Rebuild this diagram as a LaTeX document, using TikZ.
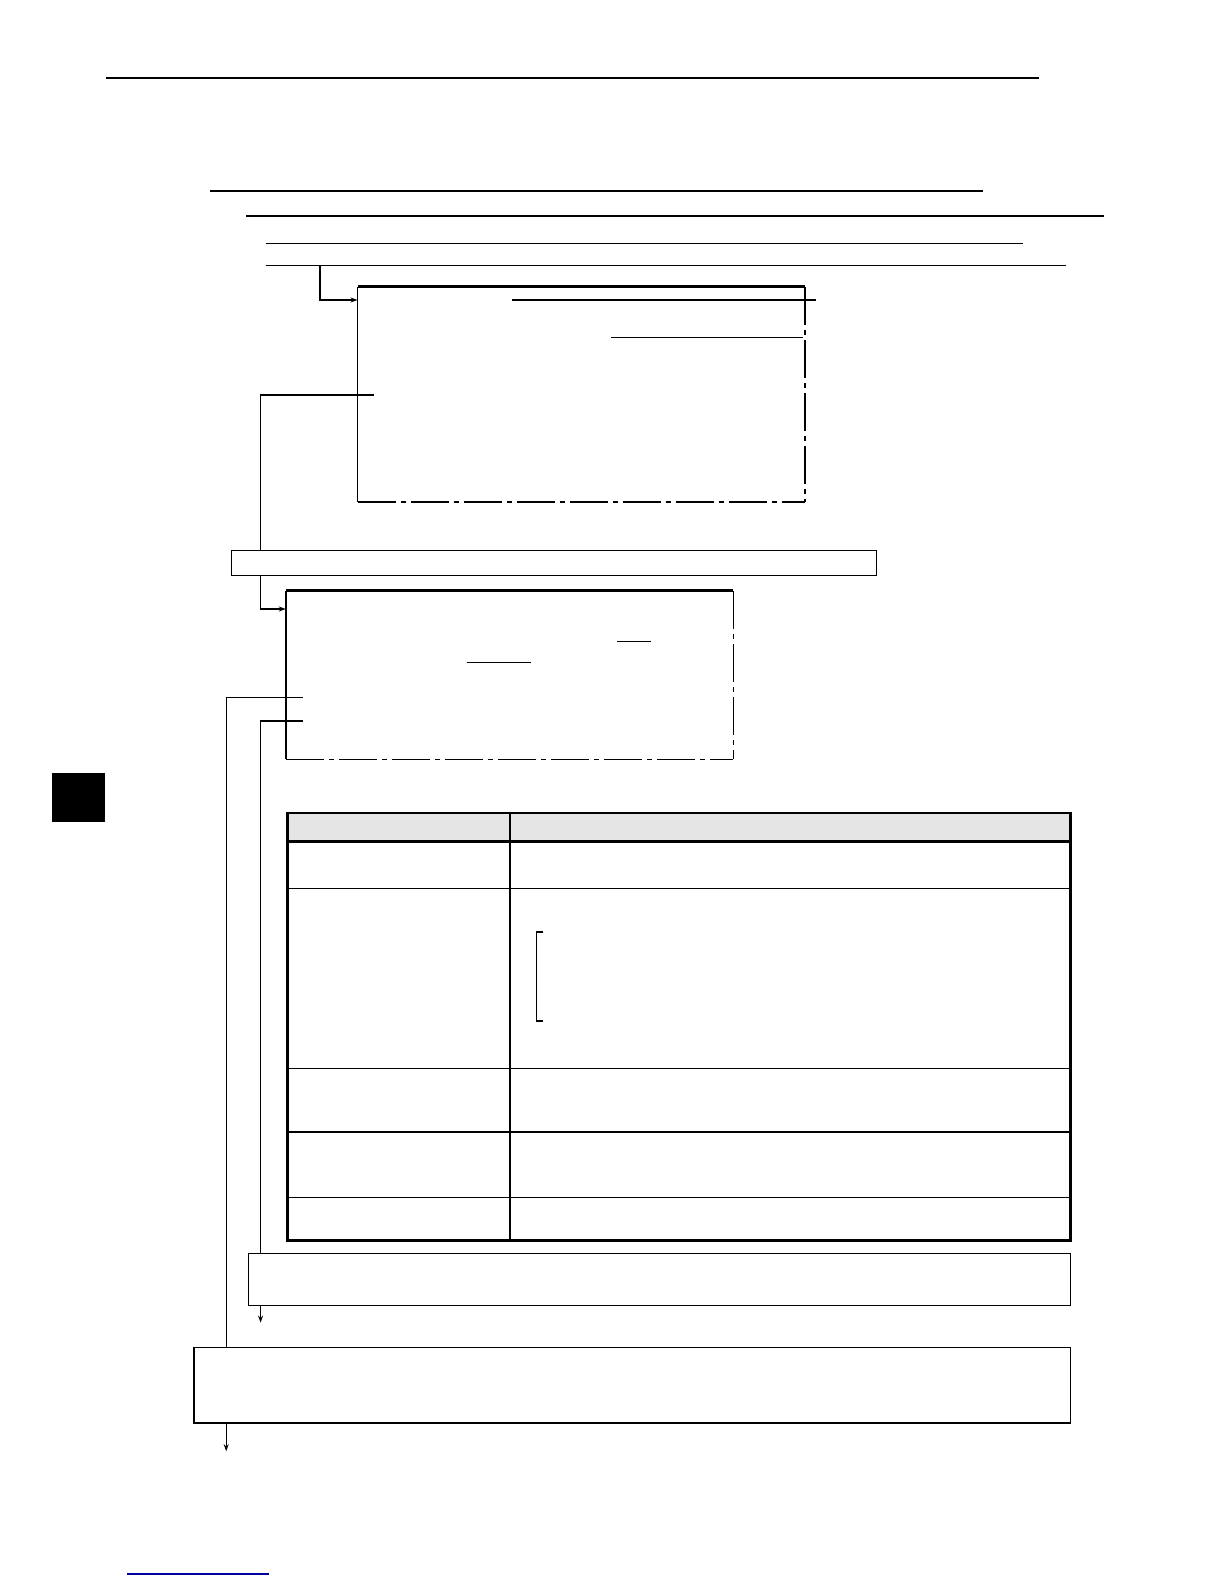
\documentclass[tikz,border=0pt]{standalone}
\usetikzlibrary{arrows.meta}
\begin{document}
\begin{tikzpicture}[x=1pt,y=-1pt,
  ln/.style={line width=1.3pt},
  thickln/.style={line width=2.8pt},
  dashdot/.style={line width=1.3pt,dash pattern=on 38pt off 5pt on 5pt off 5pt},
  arr/.style={ln,-{Stealth[length=7pt,width=5pt]}},
  boxn/.style={draw,line width=1.3pt,rectangle,inner sep=0pt,outer sep=0pt,anchor=north west,fill=white},
  blank/.style={rectangle,inner sep=0pt,outer sep=0pt,anchor=north west}]
\useasboundingbox (0,0) rectangle (1224,1584);
\fill[white] (0,0) rectangle (1224,1584);
% rules
\draw[line width=1.8pt] (106,77.8) -- (1039,77.8);
\draw[ln] (210,190.9) -- (983,190.9);
\draw[ln] (246,216) -- (1104,216);
\draw[ln] (265.6,243.4) -- (1023,243.4);
\draw[ln] (265.6,265.6) -- (1066,265.6);
\coordinate (r5) at (320,265.6);
% box 1
\node[blank,minimum width=447.5pt,minimum height=215.2pt] (b1) at (357.5,286.8) {};
\draw[thickln] (b1.north west) -- (b1.north east);
\draw[ln] (b1.north west) -- (b1.south west);
\draw[dashdot] (b1.north east) -- (b1.south east);
\draw[dashdot] (b1.south west) -- (b1.south east);
\draw[ln] (512,300) -- (816,300);
\draw[ln] (611,337.3) -- (803,337.3);
\draw[arr] (r5) |- (b1.north west |- 0,300);
% wide box
\node[boxn,minimum width=645.3pt,minimum height=25.2pt] (wide) at (231.3,550.4) {};
\coordinate (c1) at (373.7,394.9);
\coordinate (k1) at (260.6,394.9);
\draw[ln] (c1) -- (k1) -- (k1 |- wide.north);
% box 2
\node[blank,minimum width=447.4pt,minimum height=168.6pt] (b2) at (285.8,590.8) {};
\draw[thickln] (b2.north west) -- (b2.north east);
\draw[line width=2.4pt] (b2.north west) -- (b2.south west);
\draw[dashdot] (b2.north east) -- (b2.south east);
\draw[dashdot] (b2.south west) -- (b2.south east);
\draw[ln] (617,641.3) -- (651.4,641.3);
\draw[ln] (466.6,662.5) -- (531.2,662.5);
\coordinate (k2) at (260.6,575.6);
\draw[arr] (k2) |- (b2.west |- 0,609);
% table
\fill[gray!20] (287.8,813) rectangle (1070.5,841.3);
\draw[line width=2.8pt] (287.8,813) rectangle (1070.5,1240.2);
\draw[line width=2.8pt] (287.8,841.3) -- (1070.5,841.3);
\draw[ln] (510,813) -- (510,1240.2);
\foreach \yy in {888.7,1068.5,1132.1,1197.7} \draw[ln] (287.8,\yy) -- (1070.5,\yy);
\draw[ln] (543,932) -- (536.3,932) -- (536.3,1021) -- (543,1021);
% medium and big boxes
\node[boxn,minimum width=822.1pt,minimum height=52.5pt] (med) at (248.4,1253.3) {};
\node[boxn,minimum width=876.6pt,minimum height=75.8pt] (big) at (193.9,1347.2) {};
\coordinate (c2) at (303,697.8);
\coordinate (k3) at (226.2,697.8);
\draw[ln] (c2) -- (k3) -- (k3 |- big.north);
\coordinate (c3) at (303,721);
\coordinate (k4) at (260.6,721);
\draw[ln] (c3) -- (k4) -- (k4 |- med.north);
\coordinate (e1) at (260.6,1322.6);
\draw[arr] (e1 |- med.south) -- (e1);
\coordinate (e2) at (226.2,1451.2);
\draw[arr] (e2 |- big.south) -- (e2);
% side tab
\fill[black] (52,773) rectangle (105,822);
% bottom blue rule
\draw[line width=1.5pt,color={rgb,255:red,0;green,0;blue,160}] (127,1574) -- (269,1574);
\end{tikzpicture}
\end{document}
